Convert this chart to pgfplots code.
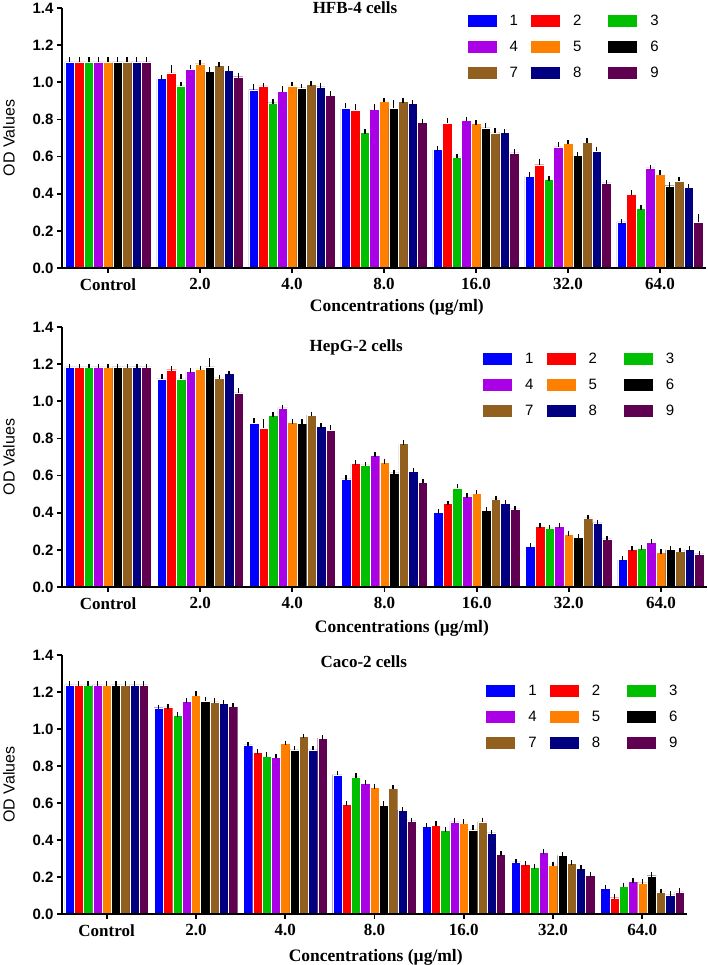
\documentclass[border=0pt]{standalone}
\usepackage{pgfplots}
\pgfplotsset{compat=1.18}
\usepackage{pgfplotstable}
\usepackage{fontspec}
\setmainfont{Liberation Serif}
\setsansfont{Liberation Sans}

\definecolor{c1}{RGB}{0,0,255}
\definecolor{c2}{RGB}{255,0,0}
\definecolor{c3}{RGB}{0,190,0}
\definecolor{c4}{RGB}{170,0,230}
\definecolor{c5}{RGB}{255,128,0}
\definecolor{c6}{RGB}{0,0,0}
\definecolor{c7}{RGB}{145,95,30}
\definecolor{c8}{RGB}{0,0,128}
\definecolor{c9}{RGB}{95,0,80}

\pgfplotstableread{
x s1 s2 s3 s4 s5 s6 s7 s8 s9 e1 e2 e3 e4 e5 e6 e7 e8 e9
0 1.11 1.11 1.11 1.11 1.11 1.11 1.11 1.11 1.11 0.015 0.015 0.015 0.015 0.015 0.015 0.015 0.015 0.015
1 1.02 1.05 0.98 1.07 1.10 1.06 1.09 1.065 1.03 0.005 0.03 0.01 0.012 0.008 0.01 0.006 0.01 0.008
2 0.96 0.98 0.89 0.95 0.98 0.97 0.99 0.975 0.93 0.02 0.005 0.005 0.015 0.01 0.01 0.005 0.008 0.01
3 0.86 0.85 0.73 0.853 0.90 0.86 0.898 0.885 0.785 0.015 0.02 0.005 0.015 0.005 0.03 0.005 0.005 0.005
4 0.637 0.78 0.598 0.795 0.78 0.754 0.727 0.73 0.62 0.005 0.015 0.005 0.008 0.005 0.012 0.012 0.005 0.008
5 0.494 0.556 0.476 0.652 0.67 0.605 0.677 0.628 0.458 0.008 0.02 0.005 0.015 0.008 0.005 0.008 0.012 0.005
6 0.248 0.395 0.32 0.539 0.503 0.443 0.467 0.436 0.246 0.003 0.012 0.005 0.005 0.012 0.005 0.012 0.005 0.03
}\hfb

\pgfplotstableread{
x s1 s2 s3 s4 s5 s6 s7 s8 s9 e1 e2 e3 e4 e5 e6 e7 e8 e9
0 1.185 1.185 1.185 1.185 1.185 1.185 1.185 1.185 1.185 0.005 0.005 0.005 0.005 0.005 0.005 0.005 0.005 0.005
1 1.12 1.17 1.12 1.162 1.174 1.185 1.126 1.15 1.045 0.012 0.008 0.012 0.005 0.005 0.035 0.005 0.003 0.012
2 0.883 0.856 0.923 0.964 0.887 0.88 0.926 0.865 0.844 0.012 0.035 0.005 0.006 0.003 0.01 0.006 0.006 0.015
3 0.582 0.664 0.657 0.709 0.671 0.614 0.772 0.623 0.564 0.006 0.006 0.006 0.006 0.006 0.006 0.006 0.006 0.006
4 0.402 0.45 0.533 0.488 0.503 0.413 0.474 0.452 0.42 0.005 0.003 0.01 0.005 0.008 0.005 0.005 0.006 0.005
5 0.219 0.327 0.318 0.327 0.282 0.269 0.372 0.345 0.259 0.005 0.005 0.005 0.005 0.005 0.005 0.005 0.005 0.005
6 0.147 0.201 0.208 0.241 0.187 0.201 0.194 0.201 0.178 0.005 0.005 0.005 0.005 0.005 0.005 0.005 0.005 0.005
}\hepg

\pgfplotstableread{
x s1 s2 s3 s4 s5 s6 s7 s8 s9 e1 e2 e3 e4 e5 e6 e7 e8 e9
0 1.239 1.239 1.239 1.239 1.239 1.239 1.239 1.239 1.239 0.008 0.008 0.008 0.008 0.008 0.008 0.008 0.008 0.008
1 1.115 1.119 1.072 1.151 1.182 1.151 1.147 1.138 1.124 0.004 0.004 0.005 0.004 0.01 0.012 0.006 0.005 0.005
2 0.914 0.872 0.854 0.845 0.921 0.887 0.959 0.887 0.95 0.004 0.006 0.008 0.008 0.004 0.01 0.004 0.01 0.004
3 0.752 0.594 0.741 0.707 0.685 0.586 0.678 0.561 0.504 0.01 0.004 0.008 0.005 0.005 0.012 0.008 0.004 0.004
4 0.473 0.478 0.451 0.498 0.493 0.455 0.498 0.439 0.322 0.004 0.01 0.006 0.008 0.006 0.012 0.01 0.004 0.006
5 0.282 0.268 0.252 0.333 0.266 0.317 0.273 0.246 0.209 0.004 0.004 0.004 0.004 0.004 0.004 0.004 0.004 0.004
6 0.14 0.088 0.151 0.176 0.169 0.207 0.119 0.104 0.12 0.006 0.006 0.006 0.006 0.006 0.006 0.006 0.006 0.006
}\caco

\pgfplotsset{
  eb/.style={draw=white, line width=0.4pt,
    error bars/.cd, y dir=plus, y explicit,
    error bar style={line width=1.4pt, black},
    error mark options={black, line width=1.4pt, mark size=2.3pt}},
  panel/.style={
    scale only axis, axis on top,
    ybar=0pt, bar width=0.104,
    xmin=-0.5, xmax=6.5, ymin=0, ymax=1.4,
    xtick={0,1,2,3,4,5,6},
    xticklabels={Control,2.0,4.0,8.0,16.0,32.0,64.0},
    ytick={0,0.2,0.4,0.6,0.8,1.0,1.2,1.4},
    axis x line=bottom, axis y line=left,
    axis line style={-, line width=1.8pt},
    tick align=outside, major tick length=5pt,
    every tick/.style={black, line width=1.8pt},
    yticklabel style={font=\fontsize{15}{15}\selectfont\sffamily\bfseries,
      /pgf/number format/.cd, fixed, fixed zerofill, precision=1, assume math mode=true},
    xticklabel style={font=\fontsize{17}{17}\selectfont\rmfamily\bfseries, yshift=-2pt},
    xlabel={Concentrations (µg/ml)},
    ylabel={OD Values},
    ylabel style={anchor=center, font=\fontsize{16}{16}\selectfont\sffamily},
    title style={anchor=base, yshift=-6pt, inner sep=0pt, font=\fontsize{17}{17}\selectfont\rmfamily\bfseries},
    legend columns=3,
    legend entries={1\hspace*{13pt},2\hspace*{27pt},3,4\hspace*{13pt},5\hspace*{27pt},6,7\hspace*{13pt},8\hspace*{27pt},9},
    legend image code/.code={\path[#1, draw=none] (0pt,-6pt) rectangle (29pt,6pt);\path[draw=none, fill=none] (0pt,0pt) -- (42pt,0pt);},
    legend cell align=left,
    legend style={anchor=north west, draw=none, fill=none,
      font=\fontsize{15}{15}\selectfont\sffamily, row sep=10pt,
      /tikz/column sep=0pt, nodes={inner xsep=0pt}},
  }
}

\newcommand\bars[1]{%
  \addplot[fill=c1, eb] table[x=x, y=s1, y error=e1] {#1};
  \addplot[fill=c2, eb] table[x=x, y=s2, y error=e2] {#1};
  \addplot[fill=c3, eb] table[x=x, y=s3, y error=e3] {#1};
  \addplot[fill=c4, eb] table[x=x, y=s4, y error=e4] {#1};
  \addplot[fill=c5, eb] table[x=x, y=s5, y error=e5] {#1};
  \addplot[fill=c6, eb] table[x=x, y=s6, y error=e6] {#1};
  \addplot[fill=c7, eb] table[x=x, y=s7, y error=e7] {#1};
  \addplot[fill=c8, eb] table[x=x, y=s8, y error=e8] {#1};
  \addplot[fill=c9, eb] table[x=x, y=s9, y error=e9] {#1};
}

\begin{document}
\begin{tikzpicture}
\useasboundingbox (0,0) rectangle (708pt,965pt);

\begin{axis}[panel, at={(62pt,697pt)}, anchor=south west, width=644pt, height=260pt,
  title={HFB-4 cells}, title style={at={(axis description cs:0.455,0.977)}},
  xlabel style={at={(axis description cs:0.52,0)}, anchor=center, yshift=-39pt, font=\fontsize{17.5}{17.5}\selectfont\rmfamily\bfseries},
  ylabel style={at={(axis description cs:-0.0823,0.5)}},
  legend style={at={(axis description cs:0.625,0.99)}}]
\bars{\hfb}
\end{axis}

\begin{axis}[panel, at={(62pt,378pt)}, anchor=south west, width=645pt, height=260pt,
  title={HepG-2 cells}, title style={at={(axis description cs:0.456,0.904)}},
  xlabel style={at={(axis description cs:0.527,0)}, anchor=center, yshift=-41pt, font=\fontsize{17.5}{17.5}\selectfont\rmfamily\bfseries},
  ylabel style={at={(axis description cs:-0.0823,0.5)}},
  legend style={at={(axis description cs:0.648,0.915)}}]
\bars{\hepg}
\end{axis}

\begin{axis}[panel, at={(62pt,51pt)}, anchor=south west, width=625pt, height=259pt,
  title={Caco-2 cells}, title style={at={(axis description cs:0.483,0.95)}},
  xlabel style={at={(axis description cs:0.502,0)}, anchor=center, yshift=-43pt, font=\fontsize{17.5}{17.5}\selectfont\rmfamily\bfseries},
  ylabel style={at={(axis description cs:-0.0848,0.5)}},
  legend style={at={(axis description cs:0.674,0.90)}}]
\bars{\caco}
\end{axis}
\end{tikzpicture}
\end{document}
